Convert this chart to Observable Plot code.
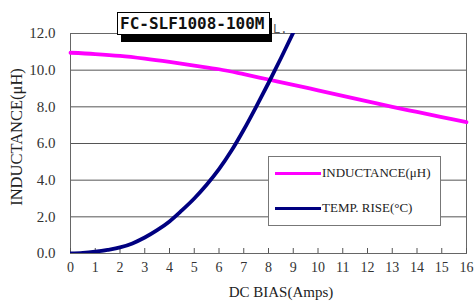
<!DOCTYPE html>
<html>
<head>
<meta charset="utf-8">
<script src="https://cdn.jsdelivr.net/npm/d3@7"></script>
<script src="https://cdn.jsdelivr.net/npm/@observablehq/plot@0.6"></script>
<style>
  html, body { margin: 0; padding: 0; background: #fff; }
  #wrap { position: relative; width: 474px; height: 308px; overflow: hidden; font-family: "Liberation Serif", "Times New Roman", serif; }
  .abs { position: absolute; white-space: nowrap; }
</style>
</head>
<body>
<div id="wrap"></div>
<script>
const amps = [0, 1, 2, 3, 4, 5, 6, 7, 8, 9, 10, 11, 12, 13, 14, 15, 16];
const inductance = [10.95, 10.88, 10.78, 10.63, 10.45, 10.25, 10.05, 9.78, 9.49, 9.2, 8.9, 8.6, 8.3, 8.0, 7.72, 7.44, 7.16];
const tempAmps = [0, 0.5, 1, 1.5, 2, 2.5, 3, 3.5, 4, 4.5, 5, 5.5, 6, 6.5, 7, 7.5, 8, 8.5, 9];
const tempRise = [0, 0.03, 0.1, 0.2, 0.33, 0.55, 0.87, 1.27, 1.75, 2.35, 3.0, 3.75, 4.6, 5.6, 6.75, 8.0, 9.3, 10.65, 12.05];
const xTicks = [0, 1, 2, 3, 4, 5, 6, 7, 8, 9, 10, 11, 12, 13, 14, 15, 16];
const yTicks = [0, 2, 4, 6, 8, 10, 12];
const chartTitle = "FC-SLF1008-100M";
const titleSuffix = "L.";
const xLabel = "DC BIAS(Amps)";
const yLabel = "INDUCTANCE(μH)";
const seriesNames = ["INDUCTANCE(μH)", "TEMP. RISE(°C)"];
const seriesColors = ["#ff00ff", "#000080"];

const serif = "'Liberation Serif', 'Times New Roman', serif";
const indData = amps.map((a, i) => ({a, v: inductance[i]}));
const tempData = tempAmps.map((a, i) => ({a, v: tempRise[i]}));

const chart = Plot.plot({
  width: 474,
  height: 308,
  marginLeft: 70,
  marginRight: 8,
  marginTop: 33,
  marginBottom: 55,
  x: {domain: [0, 16]},
  y: {domain: [0, 12]},
  style: {fontFamily: serif, fontSize: "15px", color: "#333", background: "transparent"},
  marks: [
    Plot.ruleY(yTicks, {stroke: "#555", strokeWidth: 1}),
    Plot.frame({stroke: "#666"}),
    Plot.ruleX(xTicks, {stroke: "#555", insetTop: 215}),
    Plot.axisY({ticks: yTicks, tickFormat: d => d.toFixed(1), tickSize: 0, tickPadding: 15, label: null, fontSize: 15, fontFamily: serif}),
    Plot.axisX({ticks: xTicks, tickFormat: d => String(d), tickSize: 0, tickPadding: 9, label: null, fontSize: 14, fontFamily: serif}),
    Plot.line(indData, {x: "a", y: "v", stroke: seriesColors[0], strokeWidth: 3.8, curve: "catmull-rom"}),
    Plot.line(tempData, {x: "a", y: "v", stroke: seriesColors[1], strokeWidth: 3.8, curve: "catmull-rom", clip: true})
  ]
});

const wrap = document.getElementById("wrap");
chart.style.position = "absolute";
chart.style.left = "0px";
chart.style.top = "0px";
wrap.appendChild(chart);

function add(html) { wrap.insertAdjacentHTML("beforeend", html); }

// Title box with shadow
add(`<div class="abs" style="left:121px;top:18px;width:151px;height:24px;background:#000;"></div>`);
add(`<div class="abs" style="left:117px;top:12px;width:149px;height:21px;background:#fff;border:1px solid #000;font-family:'DejaVu Sans Mono',monospace;font-weight:bold;font-size:16px;line-height:21px;padding-left:2px;color:#111;">${chartTitle}</div>`);
add(`<div class="abs" style="left:273px;top:22px;font-family:'DejaVu Sans Mono',monospace;font-size:12px;line-height:14px;color:#555;">${titleSuffix}</div>`);

// Axis titles
add(`<div class="abs" style="left:281px;top:292px;font-size:15px;color:#222;transform:translate(-50%,-50%);font-family:${serif};">${xLabel}</div>`);
add(`<div class="abs" style="left:17px;top:137px;font-size:16.5px;color:#222;transform:translate(-50%,-50%) rotate(-90deg);font-family:${serif};">${yLabel}</div>`);

// Legend
add(`<div class="abs" style="left:268px;top:156px;width:171px;height:68px;background:#fff;border:1px solid #777;"></div>`);
seriesNames.forEach((name, i) => {
  const y = i === 0 ? 173 : 208;
  add(`<div class="abs" style="left:275px;top:${y - 1.5}px;width:46px;height:3px;background:${seriesColors[i]};"></div>`);
  add(`<div class="abs" style="left:322px;top:${y - 8}px;font-size:13px;line-height:16px;color:#222;font-family:${serif};">${name}</div>`);
});
</script>
</body>
</html>
